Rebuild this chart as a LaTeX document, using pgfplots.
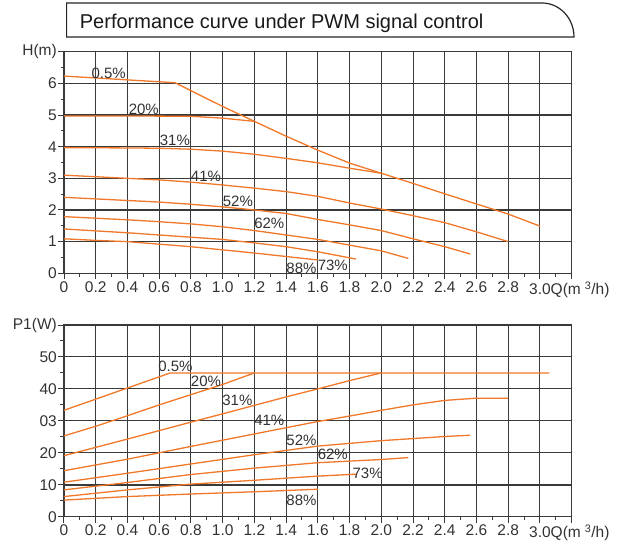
\documentclass[border=0pt]{standalone}
\usepackage{fontspec}
\setmainfont{Liberation Sans}
\usepackage{pgfplots}
\pgfplotsset{compat=1.18}
\definecolor{curve}{RGB}{240,120,40}
\definecolor{gridc}{RGB}{58,58,58}
\definecolor{txt}{RGB}{50,50,50}
\pgfplotsset{
  pumpaxis/.style={
    scale only axis, width=507.7pt, xmin=0, xmax=3.2,
    axis line style={gridc, line width=1.1pt},
    grid=major, major grid style={gridc, line width=1.05pt},
    xtick={0,0.2,0.4,0.6,0.8,1.0,1.2,1.4,1.6,1.8,2.0,2.2,2.4,2.6,2.8,3.0,3.2},
    xticklabels={0,0.2,0.4,0.6,0.8,1.0,1.2,1.4,1.6,1.8,2.0,2.2,2.4,2.6,2.8,{3.0\rlap{Q(m\hspace{4pt}\textsuperscript{3}/h)}},{}},
    minor x tick num=1, minor y tick num=1,
    tick align=outside, xtick pos=bottom, ytick pos=left,
    major tick length=6pt, minor tick length=3.5pt,
    tick style={gridc, line width=1pt},
    tick label style={font=\fontsize{15.5}{16}\selectfont, text=txt},
    yticklabel style={inner sep=1pt},
    xticklabel style={inner sep=2pt},
    clip=false,
  },
  cv/.style={curve, line width=1.3pt},
}
\tikzset{lb/.style={font=\fontsize{15}{16}\selectfont, text=txt, inner sep=0pt}}
\begin{document}
\begin{tikzpicture}
\path[use as bounding box] (0,0) rectangle (622pt,546pt);
% title box
\draw[line width=1.2pt, black!85] (66.6pt,509pt) -- (66.6pt,543pt) -- (542pt,543pt)
  arc[start angle=90, end angle=0, x radius=32pt, y radius=34pt] -- cycle;
\node[anchor=base west, inner sep=0pt, font=\fontsize{20}{22}\selectfont, text=black!90] at (79.7pt,517.7pt) {Performance curve under PWM signal control};

% ---------- H-Q chart ----------
\begin{axis}[pumpaxis, at={(64pt,272.7pt)}, anchor=south west, height=221.6pt,
  ymin=0, ymax=7, ytick={0,1,2,3,4,5,6,7}, yticklabels={0,1,2,3,4,5,6,H(m)}]
\addplot[cv] coordinates {(0,6.23)(0.2,6.17)(0.4,6.11)(0.6,6.05)(0.7,6.02)(0.8,5.77)(1.0,5.27)(1.2,4.80)(1.4,4.33)(1.6,3.89)(1.8,3.48)(2.0,3.16)(2.2,2.84)(2.4,2.51)(2.6,2.19)(2.8,1.87)(3.0,1.49)};
\addplot[cv] coordinates {(0,4.97)(0.4,4.97)(0.8,4.96)(1.0,4.90)(1.2,4.80)};
\addplot[cv] coordinates {(0,3.97)(0.4,3.96)(0.6,3.95)(0.8,3.92)(1.0,3.86)(1.2,3.76)(1.4,3.63)(1.6,3.49)(1.8,3.32)(2.0,3.16)};
\addplot[cv] coordinates {(0,3.10)(0.2,3.05)(0.4,3.00)(0.6,2.95)(0.8,2.88)(1.0,2.79)(1.2,2.69)(1.4,2.58)(1.6,2.43)(1.8,2.22)(2.0,2.03)(2.2,1.82)(2.4,1.60)(2.6,1.31)(2.8,1.00)};
\addplot[cv] coordinates {(0,2.40)(0.2,2.35)(0.4,2.30)(0.6,2.25)(0.8,2.18)(1.0,2.10)(1.2,2.00)(1.4,1.89)(1.6,1.70)(1.8,1.53)(2.0,1.35)(2.2,1.09)(2.4,0.84)(2.56,0.61)};
\addplot[cv] coordinates {(0,1.79)(0.2,1.74)(0.4,1.69)(0.6,1.63)(0.8,1.56)(1.0,1.47)(1.2,1.35)(1.4,1.21)(1.6,1.07)(1.8,0.89)(2.0,0.71)(2.17,0.47)};
\addplot[cv] coordinates {(0,1.40)(0.2,1.34)(0.4,1.28)(0.6,1.21)(0.8,1.14)(1.0,1.07)(1.2,0.96)(1.4,0.84)(1.6,0.68)(1.84,0.45)};
\addplot[cv] coordinates {(0,1.09)(0.2,1.04)(0.4,1.00)(0.6,0.92)(0.8,0.84)(1.0,0.74)(1.2,0.64)(1.4,0.53)(1.6,0.42)};
\node[lb] at (axis cs:0.282,6.33) {0.5\%};
\node[lb] at (axis cs:0.503,5.18) {20\%};
\node[lb] at (axis cs:0.699,4.20) {31\%};
\node[lb] at (axis cs:0.895,3.07) {41\%};
\node[lb] at (axis cs:1.096,2.26) {52\%};
\node[lb] at (axis cs:1.294,1.57) {62\%};
\node[lb] at (axis cs:1.497,0.15) {88\%};
\node[lb] at (axis cs:1.694,0.24) {73\%};
\end{axis}

% ---------- P1-Q chart ----------
\begin{axis}[pumpaxis, at={(64pt,29.3pt)}, anchor=south west, height=191.7pt,
  ymin=0, ymax=60, ytick={0,10,20,30,40,50,60}, yticklabels={0,10,20,03,40,50,P1(W)}]
\addplot[gridc, line width=1.6pt, forget plot] coordinates {(0,10)(3.2,10)};
\addplot[cv] coordinates {(0,33.3)(0.67,45)(3.06,45)};
\addplot[cv] coordinates {(0,25.3)(0.2,28.3)(0.4,31.6)(0.6,35.0)(0.8,38.2)(1.0,41.4)(1.2,45)};
\addplot[cv] coordinates {(0,19.1)(0.4,24.3)(0.8,29.6)(1.0,32.2)(1.4,37.5)(1.6,40.0)(1.8,42.6)(2.0,45)};
\addplot[cv] coordinates {(0,14.4)(0.4,18.0)(0.8,22.0)(1.2,25.9)(1.6,29.8)(1.8,31.5)(2.0,33.3)(2.2,35.0)(2.4,36.4)(2.6,37.1)(2.8,37.1)};
\addplot[cv] coordinates {(0,10.8)(0.4,13.6)(0.8,16.5)(1.2,19.4)(1.6,22.1)(2.0,23.8)(2.4,25.1)(2.56,25.5)};
\addplot[cv] coordinates {(0,8.4)(0.4,10.7)(0.8,13.2)(1.2,15.2)(1.6,16.9)(2.0,17.9)(2.17,18.5)};
\addplot[cv] coordinates {(0,6.3)(0.4,8.4)(0.8,10.2)(1.2,11.4)(1.6,12.7)(1.84,13.3)};
\addplot[cv] coordinates {(0,5.2)(0.4,6.3)(0.8,7.1)(1.2,7.8)(1.6,8.6)};
\node[lb] at (axis cs:0.702,47.1) {0.5\%};
\node[lb] at (axis cs:0.895,42.3) {20\%};
\node[lb] at (axis cs:1.093,36.4) {31\%};
\node[lb] at (axis cs:1.294,30.1) {41\%};
\node[lb] at (axis cs:1.497,23.8) {52\%};
\node[lb] at (axis cs:1.694,19.4) {62\%};
\node[lb] at (axis cs:1.914,13.6) {73\%};
\node[lb] at (axis cs:1.497,5.2) {88\%};
\end{axis}
\end{tikzpicture}
\end{document}
